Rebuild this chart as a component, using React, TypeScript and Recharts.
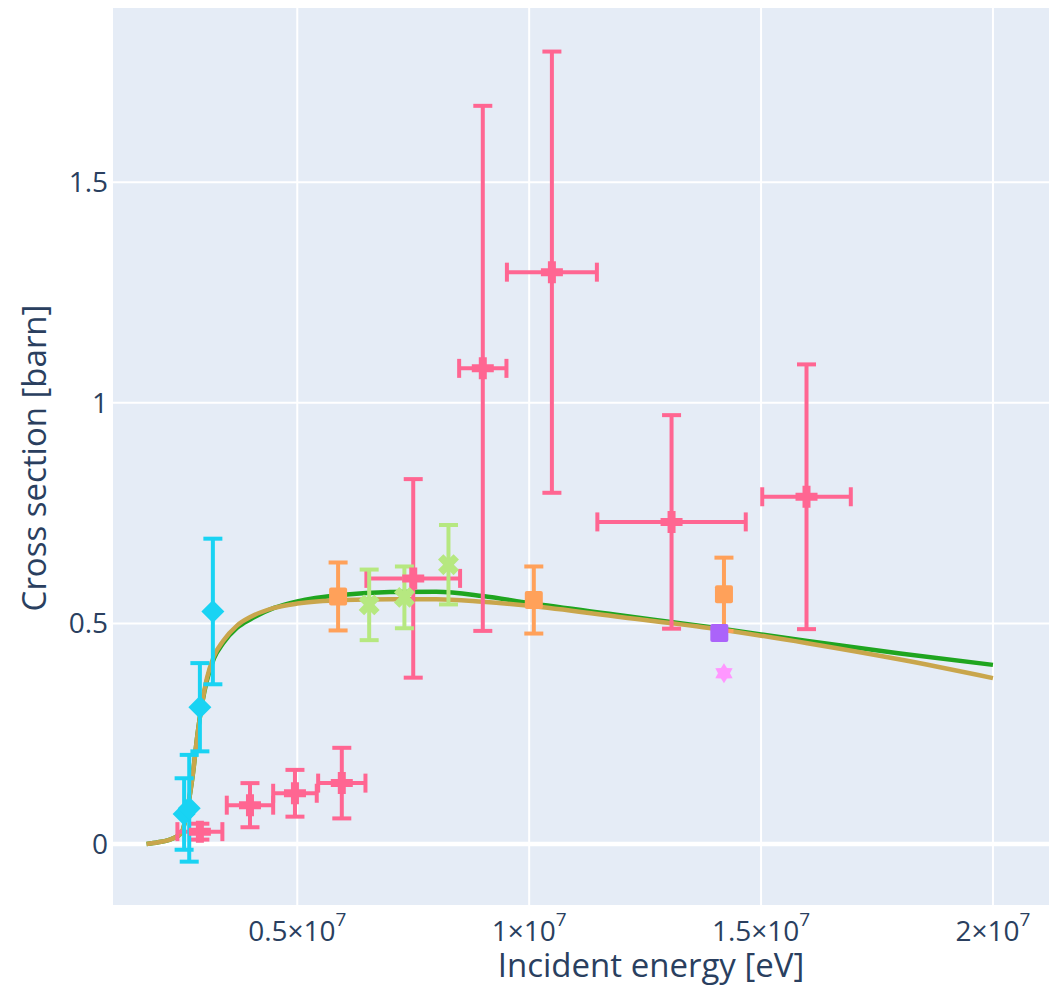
import React from 'react';
import { ComposedChart, Scatter, Line, XAxis, YAxis, CartesianGrid, ErrorBar, Label } from 'recharts';

// evaluated cross sections (two libraries)
const curveEnergy = [1.75e6, 2.0e6, 2.3e6, 2.5e6, 2.65e6, 2.75e6, 2.85e6, 2.95e6, 3.05e6, 3.2e6, 3.4e6, 3.7e6, 4.0e6, 4.5e6, 5.0e6, 6.0e6, 7.0e6, 8.0e6, 9.0e6, 1.0e7, 1.2e7, 1.4e7, 1.6e7, 1.8e7, 2.0e7];
const curveGreen = [0, 0.004, 0.012, 0.025, 0.09, 0.16, 0.25, 0.32, 0.37, 0.42, 0.455, 0.49, 0.51, 0.535, 0.55, 0.565, 0.571, 0.572, 0.562, 0.546, 0.518, 0.49, 0.46, 0.432, 0.406];
const curveTan = [0, 0.004, 0.012, 0.025, 0.09, 0.16, 0.25, 0.32, 0.375, 0.425, 0.46, 0.495, 0.515, 0.535, 0.545, 0.553, 0.555, 0.555, 0.549, 0.54, 0.514, 0.488, 0.455, 0.418, 0.376];

// experimental sets
const pinkE = [2.9e6, 3.98e6, 4.95e6, 5.96e6, 7.5e6, 9.0e6, 1.049e7, 1.307e7, 1.598e7];
const pinkEErr = [0.485e6, 0.5e6, 0.47e6, 0.51e6, 1.01e6, 0.51e6, 0.97e6, 1.6e6, 0.955e6];
const pinkXs = [0.028, 0.088, 0.115, 0.138, 0.602, 1.078, 1.296, 0.73, 0.787];
const pinkXsErr = [0.018, 0.05, 0.053, 0.08, 0.225, 0.595, 0.5, 0.242, 0.3];

const cyanE = [2.56e6, 2.67e6, 2.9e6, 3.18e6];
const cyanXs = [0.068, 0.081, 0.31, 0.527];
const cyanXsErr = [0.081, 0.121, 0.1, 0.165];

const orangeE = [5.88e6, 1.01e7, 1.42e7];
const orangeXs = [0.561, 0.553, 0.566];
const orangeXsErr = [0.077, 0.076, 0.083];

const limeE = [6.55e6, 7.31e6, 8.26e6];
const limeXs = [0.542, 0.559, 0.633];
const limeXsErr = [0.08, 0.07, 0.09];

const purpleE = [1.41e7];
const purpleXs = [0.478];

const violetE = [1.42e7];
const violetXs = [0.387];

const xTicks = [5e6, 1e7, 1.5e7, 2e7];
const xTickMantissa = ['0.5', '1', '1.5', '2'];
const yTicks = [0, 0.5, 1, 1.5];

const greenData = curveEnergy.map((x, i) => ({ x, y: curveGreen[i] }));
const tanData = curveEnergy.map((x, i) => ({ x, y: curveTan[i] }));
const pinkData = pinkE.map((x, i) => ({ x, y: pinkXs[i], ex: pinkEErr[i], ey: pinkXsErr[i] }));
const cyanData = cyanE.map((x, i) => ({ x, y: cyanXs[i], ey: cyanXsErr[i] }));
const orangeData = orangeE.map((x, i) => ({ x, y: orangeXs[i], ey: orangeXsErr[i] }));
const limeData = limeE.map((x, i) => ({ x, y: limeXs[i], ey: limeXsErr[i] }));
const purpleData = purpleE.map((x, i) => ({ x, y: purpleXs[i] }));
const violetData = violetE.map((x, i) => ({ x, y: violetXs[i] }));

const FONT = '"Open Sans", verdana, arial, sans-serif';
const TEXT = '#2a3f5f';

const PINK = '#FF6692';
const CYAN = '#19D3F3';
const ORANGE = '#FFA15A';
const LIME = '#B6E880';
const PURPLE = '#AB63FA';
const VIOLET = '#FF97FF';

const plusPath = (cx: number, cy: number, a: number, t: number) =>
  `M${cx - a},${cy - t}H${cx - t}V${cy - a}H${cx + t}V${cy - t}H${cx + a}V${cy + t}H${cx + t}V${cy + a}H${cx - t}V${cy + t}H${cx - a}Z`;

const PlusMark = (p: any) => <path d={plusPath(p.cx, p.cy, 11, 4)} fill={PINK} />;
const DiamondMark = (p: any) => {
  const r = 11.5;
  return <path d={`M${p.cx},${p.cy - r}L${p.cx + r},${p.cy}L${p.cx},${p.cy + r}L${p.cx - r},${p.cy}Z`} fill={CYAN} />;
};
const SquareMark = (color: string) => (p: any) => (
  <rect x={p.cx - 9} y={p.cy - 9} width={18} height={18} rx={2} fill={color} />
);
const XMark = (p: any) => (
  <path d={plusPath(p.cx, p.cy, 11, 3.8)} fill={LIME} transform={`rotate(45 ${p.cx} ${p.cy})`} />
);
const StarMark = (p: any) => {
  const pts: string[] = [];
  for (let k = 0; k < 12; k++) {
    const r = k % 2 === 0 ? 10 : 6;
    const a = (Math.PI / 6) * k - Math.PI / 2;
    pts.push(`${p.cx + r * Math.cos(a)},${p.cy + r * Math.sin(a)}`);
  }
  return <polygon points={pts.join(' ')} fill={VIOLET} />;
};

const XTick = (props: any) => {
  const { x, y, payload } = props;
  const i = xTicks.indexOf(payload.value);
  return (
    <text x={x} y={y} dy="0.71em" textAnchor="middle" fill={TEXT} fontSize={28} fontFamily={FONT}>
      {xTickMantissa[i]}×10
      <tspan dy={-15} fontSize={19}>7</tspan>
    </text>
  );
};

const XTitle = () => (
  <text x={651} y={977} textAnchor="middle" fill={TEXT} fontSize={33} fontFamily={FONT}>
    Incident energy [eV]
  </text>
);
const YTitle = () => (
  <text x={46} y={458} transform="rotate(-90 46 458)" textAnchor="middle" fill={TEXT} fontSize={33} fontFamily={FONT}>
    Cross section [barn]
  </text>
);

export default function App() {
  return (
    <div style={{ position: 'absolute', left: 0, top: 0, background: '#fff' }}>
      <ComposedChart width={1054} height={986} margin={{ top: 7, right: 4, bottom: 0, left: 0 }}>
        <CartesianGrid fill="#E5ECF6" stroke="#ffffff" strokeWidth={2} />
        <CartesianGrid vertical={false} horizontalValues={[0]} stroke="#ffffff" strokeWidth={4.5} />
        <XAxis
          type="number"
          dataKey="x"
          domain={[1.005e6, 2.123e7]}
          allowDataOverflow
          ticks={xTicks}
          tick={<XTick />}
          height={80}
          axisLine={false}
          tickLine={false}
          tickSize={0}
          tickMargin={15}
          interval={0}
        >
          <Label content={<XTitle />} />
        </XAxis>
        <YAxis
          type="number"
          dataKey="y"
          domain={[-0.1405, 1.897]}
          allowDataOverflow
          ticks={yTicks}
          width={112}
          axisLine={false}
          tickLine={false}
          tickSize={0}
          tickMargin={4}
          interval={0}
          tick={{ fill: TEXT, fontSize: 28, fontFamily: FONT }}
        >
          <Label content={<YTitle />} />
        </YAxis>

        <Line data={greenData} dataKey="y" type="monotone" stroke="#1FA51F" strokeWidth={4.5} dot={false} isAnimationActive={false} />
        <Line data={tanData} dataKey="y" type="monotone" stroke="#C9A64C" strokeWidth={4.5} dot={false} isAnimationActive={false} />

        <Scatter data={pinkData} dataKey="y" shape={<PlusMark />} isAnimationActive={false}>
          <ErrorBar dataKey="ex" direction="x" width={9.5} stroke={PINK} strokeWidth={4} isAnimationActive={false} />
          <ErrorBar dataKey="ey" direction="y" width={9.5} stroke={PINK} strokeWidth={4} isAnimationActive={false} />
        </Scatter>
        <Scatter data={cyanData} dataKey="y" shape={<DiamondMark />} isAnimationActive={false}>
          <ErrorBar dataKey="ey" direction="y" width={9.5} stroke={CYAN} strokeWidth={4} isAnimationActive={false} />
        </Scatter>
        <Scatter data={orangeData} dataKey="y" shape={SquareMark(ORANGE)} isAnimationActive={false}>
          <ErrorBar dataKey="ey" direction="y" width={9.5} stroke={ORANGE} strokeWidth={4} isAnimationActive={false} />
        </Scatter>
        <Scatter data={limeData} dataKey="y" shape={<XMark />} isAnimationActive={false}>
          <ErrorBar dataKey="ey" direction="y" width={9.5} stroke={LIME} strokeWidth={4} isAnimationActive={false} />
        </Scatter>
        <Scatter data={purpleData} dataKey="y" shape={SquareMark(PURPLE)} isAnimationActive={false} />
        <Scatter data={violetData} dataKey="y" shape={<StarMark />} isAnimationActive={false} />
      </ComposedChart>
    </div>
  );
}
